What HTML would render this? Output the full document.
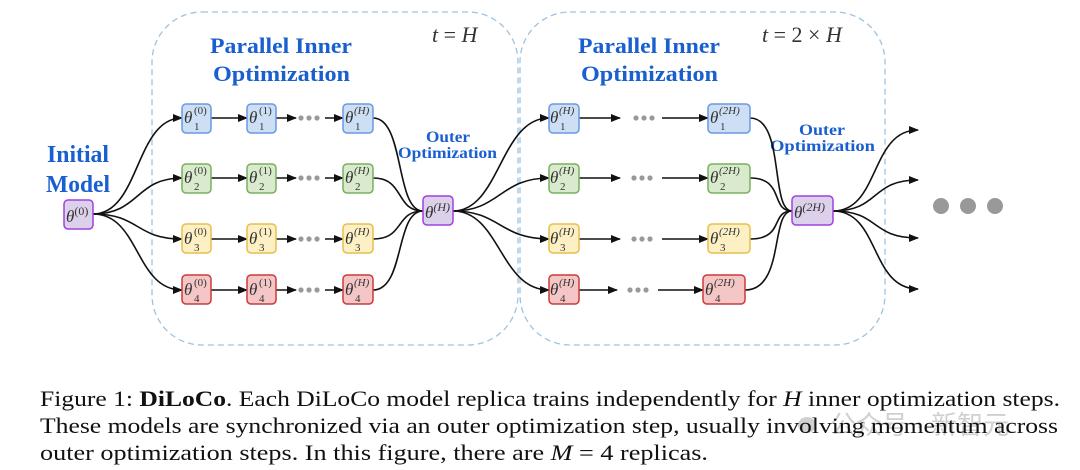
<!DOCTYPE html>
<html><head><meta charset="utf-8"><style>
html,body{margin:0;padding:0;background:#fff;width:1080px;height:470px;overflow:hidden}
svg{display:block}
.lbl{font-family:"Liberation Serif",serif;font-weight:bold;fill:#1a5fd0}
.th{font-family:"Liberation Serif",serif;font-style:italic;fill:#333}
.sm{font-family:"Liberation Serif",serif;fill:#333}
.cap{font-family:"Liberation Serif",serif;font-size:22px;fill:#111}
</style></head><body>
<svg width="1080" height="470" viewBox="0 0 1080 470" xmlns="http://www.w3.org/2000/svg">
<defs><marker id="a" markerWidth="10" markerHeight="8" refX="9" refY="4" orient="auto" markerUnits="userSpaceOnUse"><path d="M0,0 L10,4 L0,8 z" fill="#111"/></marker></defs>
<rect x="152" y="12" width="366" height="333" rx="50" fill="none" stroke="#9ec3e0" stroke-width="1.3" stroke-dasharray="6,4"/>
<rect x="520" y="12" width="365" height="333" rx="50" fill="none" stroke="#9ec3e0" stroke-width="1.3" stroke-dasharray="6,4"/>

<text class="lbl" font-size="24" x="47" y="162" textLength="62" lengthAdjust="spacingAndGlyphs">Initial</text>
<text class="lbl" font-size="24" x="46" y="192" textLength="64" lengthAdjust="spacingAndGlyphs">Model</text>
<text class="lbl" font-size="22" x="210" y="53" textLength="142" lengthAdjust="spacingAndGlyphs">Parallel Inner</text>
<text class="lbl" font-size="22" x="213" y="81" textLength="137" lengthAdjust="spacingAndGlyphs">Optimization</text>
<text class="lbl" font-size="22" x="578" y="53" textLength="142" lengthAdjust="spacingAndGlyphs">Parallel Inner</text>
<text class="lbl" font-size="22" x="581" y="81" textLength="137" lengthAdjust="spacingAndGlyphs">Optimization</text>
<text class="lbl" font-size="16" x="426" y="142" textLength="44" lengthAdjust="spacingAndGlyphs">Outer</text>
<text class="lbl" font-size="16" x="398" y="158" textLength="99" lengthAdjust="spacingAndGlyphs">Optimization</text>
<text class="lbl" font-size="16" x="799" y="135" textLength="46" lengthAdjust="spacingAndGlyphs">Outer</text>
<text class="lbl" font-size="16" x="770" y="151" textLength="105" lengthAdjust="spacingAndGlyphs">Optimization</text>
<text class="th" font-size="22" x="432" y="42">t <tspan font-style="normal">=</tspan> H</text>
<text class="th" font-size="22" x="762" y="42">t <tspan font-style="normal">= 2 ×</tspan> H</text>

<g fill="none" stroke="#111" stroke-width="1.6">
<path d="M93,214 C140,214 135,118 182,118" marker-end="url(#a)"/>
<path d="M93,214 C140,214 135,178 182,178" marker-end="url(#a)"/>
<path d="M93,214 C140,214 135,239 182,239" marker-end="url(#a)"/>
<path d="M93,214 C140,214 135,290 182,290" marker-end="url(#a)"/>
<path d="M211,118 H247" marker-end="url(#a)"/><path d="M276,118 H296" marker-end="url(#a)"/><path d="M325,118 H343" marker-end="url(#a)"/>
<path d="M211,178 H247" marker-end="url(#a)"/><path d="M276,178 H296" marker-end="url(#a)"/><path d="M325,178 H343" marker-end="url(#a)"/>
<path d="M211,239 H247" marker-end="url(#a)"/><path d="M276,239 H296" marker-end="url(#a)"/><path d="M325,239 H343" marker-end="url(#a)"/>
<path d="M211,290 H247" marker-end="url(#a)"/><path d="M276,290 H296" marker-end="url(#a)"/><path d="M325,290 H343" marker-end="url(#a)"/>
<path d="M373,118 C405,118 395,211 423,211"/>
<path d="M373,178 C405,178 395,211 423,211"/>
<path d="M373,239 C405,239 395,211 423,211"/>
<path d="M373,290 C405,290 395,211 423,211"/>
<path d="M453,211 C500,211 500,118 549,118" marker-end="url(#a)"/>
<path d="M453,211 C500,211 500,178 549,178" marker-end="url(#a)"/>
<path d="M453,211 C500,211 500,239 549,239" marker-end="url(#a)"/>
<path d="M453,211 C500,211 500,290 549,290" marker-end="url(#a)"/>
<path d="M579,118 H620" marker-end="url(#a)"/><path d="M662,118 H708" marker-end="url(#a)"/>
<path d="M579,178 H620" marker-end="url(#a)"/><path d="M662,178 H708" marker-end="url(#a)"/>
<path d="M579,239 H620" marker-end="url(#a)"/><path d="M662,239 H708" marker-end="url(#a)"/>
<path d="M579,290 H617" marker-end="url(#a)"/><path d="M658,290 H703" marker-end="url(#a)"/>
<path d="M750,118 C785,118 770,211 792,211"/>
<path d="M750,178 C785,178 770,211 792,211"/>
<path d="M750,239 C785,239 770,211 792,211"/>
<path d="M745,290 C785,290 770,211 792,211"/>
<path d="M833,211 C880,211 870,130 918,130" marker-end="url(#a)"/>
<path d="M833,211 C880,211 870,180 918,180" marker-end="url(#a)"/>
<path d="M833,211 C880,211 870,238 918,238" marker-end="url(#a)"/>
<path d="M833,211 C880,211 870,289 918,289" marker-end="url(#a)"/>
</g>
<g fill="#999">
<circle cx="301" cy="118" r="2.6"/><circle cx="309" cy="118" r="2.6"/><circle cx="317" cy="118" r="2.6"/>
<circle cx="301" cy="178" r="2.6"/><circle cx="309" cy="178" r="2.6"/><circle cx="317" cy="178" r="2.6"/>
<circle cx="301" cy="239" r="2.6"/><circle cx="309" cy="239" r="2.6"/><circle cx="317" cy="239" r="2.6"/>
<circle cx="301" cy="290" r="2.6"/><circle cx="309" cy="290" r="2.6"/><circle cx="317" cy="290" r="2.6"/>
<circle cx="636" cy="118" r="2.6"/><circle cx="644" cy="118" r="2.6"/><circle cx="652" cy="118" r="2.6"/>
<circle cx="634" cy="178" r="2.6"/><circle cx="642" cy="178" r="2.6"/><circle cx="650" cy="178" r="2.6"/>
<circle cx="634" cy="239" r="2.6"/><circle cx="642" cy="239" r="2.6"/><circle cx="650" cy="239" r="2.6"/>
<circle cx="630" cy="290" r="2.6"/><circle cx="638" cy="290" r="2.6"/><circle cx="646" cy="290" r="2.6"/>
<circle cx="941" cy="206" r="8"/><circle cx="968" cy="206" r="8"/><circle cx="995" cy="206" r="8"/>
</g>

<g stroke-width="1.5">
<rect x="64" y="200" width="29" height="29" rx="4" fill="#dcd0ea" stroke="#a040e0"/>
<rect x="423" y="196" width="30" height="29" rx="4" fill="#dcd0ea" stroke="#a040e0"/>
<rect x="792" y="196" width="41" height="29" rx="4" fill="#dcd0ea" stroke="#a040e0"/>
<g fill="#cddff5" stroke="#6a9ae0"><rect x="182" y="104" width="29" height="29" rx="4"/><rect x="247" y="104" width="29" height="29" rx="4"/><rect x="343" y="104" width="30" height="29" rx="4"/><rect x="549" y="104" width="30" height="29" rx="4"/><rect x="708" y="104" width="42" height="29" rx="4"/></g>
<g fill="#d9eacd" stroke="#78b060"><rect x="182" y="164" width="29" height="29" rx="4"/><rect x="247" y="164" width="29" height="29" rx="4"/><rect x="343" y="164" width="30" height="29" rx="4"/><rect x="549" y="164" width="30" height="29" rx="4"/><rect x="708" y="164" width="42" height="29" rx="4"/></g>
<g fill="#fcf0c4" stroke="#e5c04a"><rect x="182" y="224" width="29" height="29" rx="4"/><rect x="247" y="224" width="29" height="29" rx="4"/><rect x="343" y="224" width="30" height="29" rx="4"/><rect x="549" y="224" width="30" height="29" rx="4"/><rect x="708" y="224" width="42" height="29" rx="4"/></g>
<g fill="#f4c6c6" stroke="#cc3a3a"><rect x="182" y="275" width="29" height="29" rx="4"/><rect x="247" y="275" width="29" height="29" rx="4"/><rect x="343" y="275" width="30" height="29" rx="4"/><rect x="549" y="275" width="30" height="29" rx="4"/><rect x="703" y="275" width="42" height="29" rx="4"/></g>
</g>

<g class="th" font-size="17">
<text x="66" y="222">θ<tspan class="sm" font-style="normal" font-size="12" dy="-7">(0)</tspan></text>
<text x="425" y="218">θ<tspan font-size="12" dy="-7">(H)</tspan></text>
<text x="794" y="218">θ<tspan font-size="12" dy="-7">(2H)</tspan></text>
</g>
<g class="th" font-size="17">
<text x="184" y="123">θ</text><text x="249" y="123">θ</text><text x="345" y="123">θ</text><text x="550" y="123">θ</text><text x="710" y="123">θ</text>
<text x="184" y="183">θ</text><text x="249" y="183">θ</text><text x="345" y="183">θ</text><text x="550" y="183">θ</text><text x="710" y="183">θ</text>
<text x="184" y="244">θ</text><text x="249" y="244">θ</text><text x="345" y="244">θ</text><text x="550" y="244">θ</text><text x="710" y="244">θ</text>
<text x="184" y="295">θ</text><text x="249" y="295">θ</text><text x="345" y="295">θ</text><text x="550" y="295">θ</text><text x="705" y="295">θ</text>
</g>
<g font-family="Liberation Serif,serif" font-size="11" fill="#333">
<text x="194" y="114">(0)</text><text x="259" y="114">(1)</text><text x="354" y="114" font-style="italic">(H)</text><text x="559" y="114" font-style="italic">(H)</text><text x="719" y="114" font-style="italic">(2H)</text>
<text x="194" y="174">(0)</text><text x="259" y="174">(1)</text><text x="354" y="174" font-style="italic">(H)</text><text x="559" y="174" font-style="italic">(H)</text><text x="719" y="174" font-style="italic">(2H)</text>
<text x="194" y="235">(0)</text><text x="259" y="235">(1)</text><text x="354" y="235" font-style="italic">(H)</text><text x="559" y="235" font-style="italic">(H)</text><text x="719" y="235" font-style="italic">(2H)</text>
<text x="194" y="286">(0)</text><text x="259" y="286">(1)</text><text x="354" y="286" font-style="italic">(H)</text><text x="559" y="286" font-style="italic">(H)</text><text x="714" y="286" font-style="italic">(2H)</text>
<text x="194" y="130">1</text><text x="259" y="130">1</text><text x="355" y="130">1</text><text x="560" y="130">1</text><text x="720" y="130">1</text>
<text x="194" y="190">2</text><text x="259" y="190">2</text><text x="355" y="190">2</text><text x="560" y="190">2</text><text x="720" y="190">2</text>
<text x="194" y="251">3</text><text x="259" y="251">3</text><text x="355" y="251">3</text><text x="560" y="251">3</text><text x="720" y="251">3</text>
<text x="194" y="302">4</text><text x="259" y="302">4</text><text x="355" y="302">4</text><text x="560" y="302">4</text><text x="715" y="302">4</text>
</g>

<g fill="#d0d0d0">
<ellipse cx="807" cy="425" rx="9" ry="8"/>
<text x="830" y="434" font-family="Liberation Sans, Noto Sans CJK SC, sans-serif" font-size="26">公众号 · 新智元</text>
</g>
<text class="cap" x="40" y="406" textLength="1020" lengthAdjust="spacingAndGlyphs">Figure 1: <tspan font-weight="bold">DiLoCo</tspan>. Each DiLoCo model replica trains independently for <tspan font-style="italic">H</tspan> inner optimization steps.</text>
<text class="cap" x="40" y="433" textLength="1018" lengthAdjust="spacingAndGlyphs">These models are synchronized via an outer optimization step, usually involving momentum across</text>
<text class="cap" x="40" y="460" textLength="668" lengthAdjust="spacingAndGlyphs">outer optimization steps. In this figure, there are <tspan font-style="italic">M</tspan> = 4 replicas.</text>
</svg>
</body></html>
